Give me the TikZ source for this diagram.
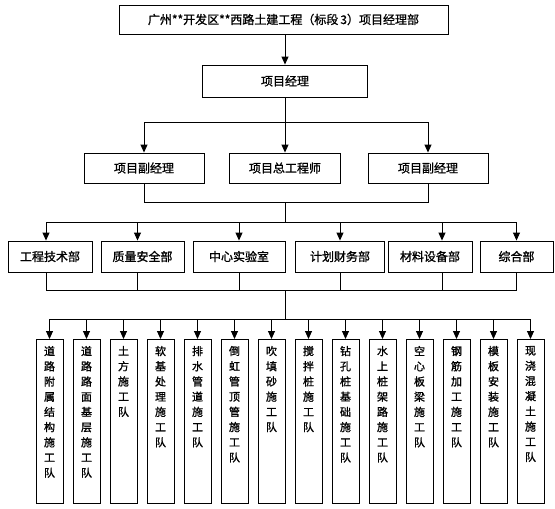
\documentclass[tikz,border=0pt]{standalone}
\usepackage{fontspec}
\setmainfont[FakeBold=1.2]{Noto Sans CJK SC}
\usetikzlibrary{arrows.meta,positioning}
\tikzset{
  orgbox/.style={draw,line width=0.9pt,fill=white,inner sep=0pt,
    align=center,font=\fontsize{12}{14}\selectfont},
  teambox/.style={draw,line width=0.9pt,fill=white,inner xsep=0pt,inner ysep=7pt,
    outer sep=0pt,minimum width=27pt,font=\fontsize{11}{15.2}\selectfont},
  orgline/.style={line width=0.9pt},
  orgarrow/.style={-{Triangle[length=8pt,width=7pt]},line width=0.9pt},
}
\newcommand{\teamtext}[1]{\parbox[t][150pt][t]{14pt}{\centering #1}}

\begin{document}
\begin{tikzpicture}[x=1pt,y=-1pt]
  \useasboundingbox (0,0) rectangle (555,509);
  % top levels
  \node[orgbox,minimum width=329pt,minimum height=29pt] (dept) at (283.5,19.5)
    {广州**开发区**西路土建工程（标段\,3）项目经理部};
  \node[orgbox,minimum width=165pt,minimum height=32pt] (pm) at (285,81) {项目经理};
  \draw[orgarrow] (pm.north |- dept.south) -- (pm.north);

  \node[orgbox,minimum width=120pt,minimum height=30pt] (dpmA) at (144,168) {项目副经理};
  \node[orgbox,minimum width=111pt,minimum height=30pt] (chief) at (285,168) {项目总工程师};
  \node[orgbox,minimum width=120pt,minimum height=30pt] (dpmB) at (428,168) {项目副经理};
  \coordinate (b1) at (285,122);
  \draw[orgline] (pm.south) -- (b1);
  \draw[orgarrow] (b1) -| (dpmA.north);
  \draw[orgarrow] (b1) -- (chief.north);
  \draw[orgarrow] (b1) -| (dpmB.north);

  % departments
  \node[orgbox,minimum width=84pt,minimum height=31pt] (gcjs) at (50,256.5) {工程技术部};
  \node[orgbox,minimum width=83pt,minimum height=31pt] (zlaq) at (142.5,256.5) {质量安全部};
  \node[orgbox,minimum width=92pt,minimum height=31pt] (zxsy) at (239,256.5) {中心实验室};
  \node[orgbox,minimum width=89pt,minimum height=31pt] (jhcw) at (340,256.5) {计划财务部};
  \node[orgbox,minimum width=84pt,minimum height=31pt] (clsb) at (430,256.5) {材料设备部};
  \node[orgbox,minimum width=73pt,minimum height=31pt] (zhb) at (516.5,256.5) {综合部};
  \coordinate (b2) at (285,202);
  \coordinate (b3) at (285,222);
  \draw[orgline] (dpmA.south) |- (b2);
  \draw[orgline] (dpmB.south) |- (b2);
  \draw[orgline] (b2) -- (b3);
  \draw[orgarrow] (b3) -| ([xshift=-4pt]gcjs.north);
  \draw[orgarrow] (b3) -| ([xshift=-5pt]zlaq.north);
  \draw[orgarrow] (b3) -| (zxsy.north);
  \draw[orgarrow] (b3) -| (jhcw.north);
  \draw[orgarrow] (b3) -| ([xshift=12pt]clsb.north);
  \draw[orgarrow] (b3) -| (zhb.north);

  \coordinate (b4) at (285,290);
  \coordinate (b5) at (285,319);
  \draw[orgline] ([xshift=-4pt]gcjs.south) |- (zhb.south |- b4) -- (zhb.south);
  \draw[orgline] ([xshift=-5pt]zlaq.south) -- ([xshift=-5pt]zlaq.south |- b4);
  \draw[orgline] (zxsy.south) -- (zxsy.south |- b4);
  \draw[orgline] (jhcw.south) -- (jhcw.south |- b4);
  \draw[orgline] ([xshift=12pt]clsb.south) -- ([xshift=12pt]clsb.south |- b4);
  \draw[orgline] (b4) -- (b5);

  % construction teams
  \node[teambox,anchor=north] (t1) at (49.5,339) {\teamtext{道\\路\\附\\属\\结\\构\\施\\工\\队}};
  \node[teambox,right=10pt of t1] (t2) {\teamtext{道\\路\\路\\面\\基\\层\\施\\工\\队}};
  \node[teambox,right=10pt of t2] (t3) {\teamtext{土\\方\\施\\工\\队}};
  \node[teambox,right=10pt of t3] (t4) {\teamtext{软\\基\\处\\理\\施\\工\\队}};
  \node[teambox,right=10pt of t4] (t5) {\teamtext{排\\水\\管\\道\\施\\工\\队}};
  \node[teambox,right=10pt of t5] (t6) {\teamtext{倒\\虹\\管\\顶\\管\\施\\工\\队}};
  \node[teambox,right=10pt of t6] (t7) {\teamtext{吹\\填\\砂\\施\\工\\队}};
  \node[teambox,right=10pt of t7] (t8) {\teamtext{搅\\拌\\桩\\施\\工\\队}};
  \node[teambox,right=10pt of t8] (t9) {\teamtext{钻\\孔\\桩\\基\\础\\施\\工\\队}};
  \node[teambox,right=10pt of t9] (t10) {\teamtext{水\\上\\桩\\架\\路\\施\\工\\队}};
  \node[teambox,right=10pt of t10] (t11) {\teamtext{空\\心\\板\\梁\\施\\工\\队}};
  \node[teambox,right=10pt of t11] (t12) {\teamtext{钢\\筋\\加\\工\\施\\工\\队}};
  \node[teambox,right=10pt of t12] (t13) {\teamtext{模\\板\\安\\装\\施\\工\\队}};
  \node[teambox,right=10pt of t13] (t14) {\teamtext{现\\浇\\混\\凝\\土\\施\\工\\队}};
  \draw[orgarrow] (b5) -| (t1.north);
  \draw[orgarrow] (b5) -| (t2.north);
  \draw[orgarrow] (b5) -| (t3.north);
  \draw[orgarrow] (b5) -| (t4.north);
  \draw[orgarrow] (b5) -| (t5.north);
  \draw[orgarrow] (b5) -| (t6.north);
  \draw[orgarrow] (b5) -| (t7.north);
  \draw[orgarrow] (b5) -| (t8.north);
  \draw[orgarrow] (b5) -| (t9.north);
  \draw[orgarrow] (b5) -| (t10.north);
  \draw[orgarrow] (b5) -| (t11.north);
  \draw[orgarrow] (b5) -| (t12.north);
  \draw[orgarrow] (b5) -| (t13.north);
  \draw[orgarrow] (b5) -| (t14.north);
\end{tikzpicture}
\end{document}
